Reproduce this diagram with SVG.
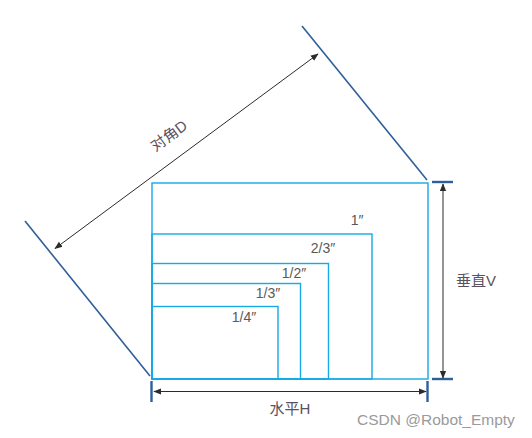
<svg xmlns="http://www.w3.org/2000/svg" width="532" height="438" viewBox="0 0 532 438">
<defs>
<marker id="ah" viewBox="0 0 10 10" refX="9" refY="5" markerWidth="8" markerHeight="8" markerUnits="userSpaceOnUse" orient="auto-start-reverse">
<path d="M0,1 L10,5 L0,9 Z" fill="#2b2b2b"/>
</marker>
</defs>
<style>
.r{fill:none;stroke:#13aae6;stroke-width:1.4}
.b{stroke:#2f5e99;stroke-width:1.6;fill:none}
.bt{stroke:#2f5e99;stroke-width:2.4;fill:none}
.a{stroke:#2b2b2b;stroke-width:1;fill:none;marker-start:url(#ah);marker-end:url(#ah)}
.t{font-family:"Liberation Sans","Noto Sans CJK SC",sans-serif;font-size:14px;fill:#595959}
.c{font-family:"Liberation Sans","Noto Sans CJK SC",sans-serif;font-size:15px;fill:#595160}
.w{font-family:"Liberation Sans",sans-serif;font-size:15.5px;fill:#9a9a9a}
</style>
<rect width="532" height="438" fill="#ffffff"/>
<g id="screens">
<rect class="r" x="152" y="183" width="276" height="196"/>
<rect class="r" x="152" y="234" width="220" height="145"/>
<rect class="r" x="152" y="263.5" width="176.5" height="115.5"/>
<rect class="r" x="152" y="283.5" width="148.5" height="95.5"/>
<rect class="r" x="152" y="306.5" width="126" height="72.5"/>
<text class="t" x="357" y="225" text-anchor="middle">1″</text>
<text class="t" x="323" y="253" text-anchor="middle">2/3″</text>
<text class="t" x="294" y="278" text-anchor="middle">1/2″</text>
<text class="t" x="268" y="298" text-anchor="middle">1/3″</text>
<text class="t" x="244" y="322" text-anchor="middle">1/4″</text>
</g>
<g id="diagonal">
<line class="b" x1="25" y1="221" x2="150" y2="376"/>
<line class="b" x1="302" y1="26" x2="427" y2="180"/>
<text class="c" transform="translate(172,140) rotate(-36.4)" text-anchor="middle">对角D</text>
</g>
<g id="vertical">
<line class="bt" x1="432" y1="182" x2="453" y2="182"/>
<line class="bt" x1="432" y1="379" x2="453" y2="379"/>
<text class="c" x="456" y="286">垂直V</text>
</g>
<g id="horizontal">
<line class="bt" x1="151.5" y1="381" x2="151.5" y2="402"/>
<line class="bt" x1="427.5" y1="381" x2="427.5" y2="402"/>
<text class="c" x="290" y="414" text-anchor="middle">水平H</text>
</g>
<g id="connectors">
<line class="a" x1="55" y1="248.5" x2="318" y2="54"/>
<line class="a" x1="443" y1="184" x2="443" y2="378"/>
<line class="a" x1="154" y1="391.5" x2="426" y2="391.5"/>
</g>
<text class="w" x="357" y="425">CSDN @Robot_Empty</text>
</svg>
